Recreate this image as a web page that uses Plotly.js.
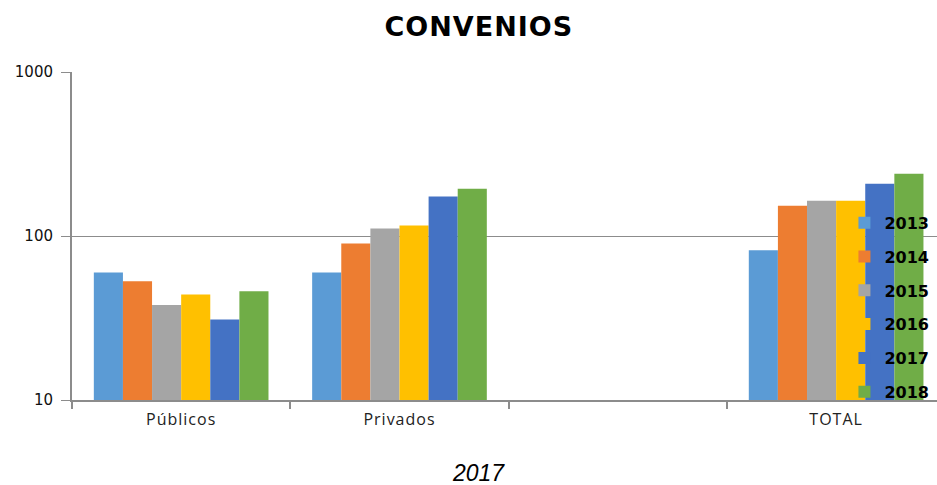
<!DOCTYPE html>
<html>
<head>
<meta charset="utf-8">
<script src="https://cdn.plot.ly/plotly-3.0.1.min.js"></script>
<style>
html,body{margin:0;padding:0;background:#fff;}
#chart{width:937px;height:485px;}
.gtitle{letter-spacing:1px;}
.xtick text{letter-spacing:1px;}
</style>
</head>
<body>
<div id="chart"></div>
<script>
const categories = ["Públicos", "Privados", " ", "TOTAL"];
const years = ["2013", "2014", "2015", "2016", "2017", "2018"];
const colors = ["#5B9BD5", "#ED7D31", "#A5A5A5", "#FFC000", "#4472C4", "#70AD47"];
const v2013 = [60, 60, null, 82];
const v2014 = [53, 90, null, 153];
const v2015 = [38, 111, null, 164];
const v2016 = [44, 116, null, 164];
const v2017 = [31, 174, null, 208];
const v2018 = [46, 194, null, 240];
const series = [v2013, v2014, v2015, v2016, v2017, v2018];
const xTitle = "2017";

const traces = series.map((vals, i) => ({
  type: "bar",
  name: years[i],
  x: categories,
  y: vals,
  marker: {color: colors[i]},
  legendgroup: "g" + i,
  hoverinfo: "x+y+name"
}));

const layout = {
  width: 937,
  height: 485,
  margin: {l: 72, r: 0, t: 72, b: 85},
  paper_bgcolor: "#fff",
  plot_bgcolor: "#fff",
  barmode: "group",
  bargap: 0.2,
  bargroupgap: 0,
  title: {
    text: "<b>CONVENIOS</b>",
    font: {family: "DejaVu Sans", size: 27, color: "#000"},
    x: 0.511, xanchor: "center",
    y: 0.946, yanchor: "middle"
  },
  xaxis: {
    type: "category",
    range: [-0.5, 3.462],
    tickson: "boundaries",
    ticks: "outside",
    ticklen: 7,
    tickwidth: 2,
    tickcolor: "#8c8c8c",
    showline: true,
    linecolor: "#8c8c8c",
    linewidth: 2,
    showgrid: false,
    ticklabelstandoff: 4,
    tickfont: {family: "Open Sans", size: 16, color: "#222"}
  },
  yaxis: {
    type: "log",
    range: [1, 3],
    tickvals: [10, 100, 1000],
    ticktext: ["10", "100", "1000"],
    ticks: "outside",
    ticklen: 9,
    tickwidth: 1,
    tickcolor: "#8c8c8c",
    showline: true,
    linecolor: "#8c8c8c",
    linewidth: 2,
    showgrid: true,
    gridcolor: "#8c8c8c",
    gridwidth: 1,
    zeroline: false,
    ticklabelstandoff: 5,
    tickfont: {family: "DejaVu Sans", size: 15, color: "#111"}
  },
  annotations: [{
    text: "<i>" + xTitle + "</i>",
    xref: "paper", yref: "paper",
    x: 0.4705, y: -0.2226,
    xanchor: "center", yanchor: "middle",
    showarrow: false,
    font: {family: "Liberation Sans", size: 23, color: "#000"}
  }],
  showlegend: true,
  legend: {
    x: 0.893, xanchor: "left",
    y: 0.592, yanchor: "top",
    bgcolor: "rgba(0,0,0,0)",
    traceorder: "grouped",
    tracegroupgap: 10,
    font: {family: "DejaVu Sans", size: 16, color: "#000", weight: "bold"}
  }
};

Plotly.newPlot("chart", traces, layout, {displayModeBar: false, staticPlot: true});
</script>
</body>
</html>
